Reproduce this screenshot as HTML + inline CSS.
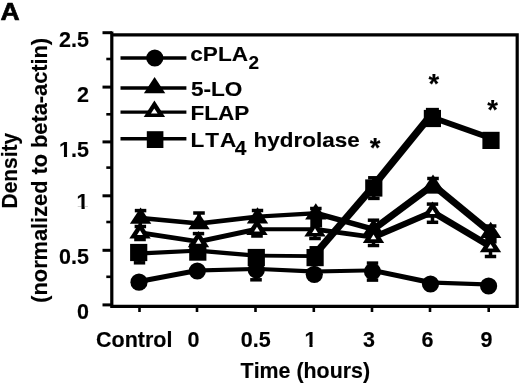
<!DOCTYPE html>
<html><head><meta charset="utf-8"><title>Figure A</title>
<style>html,body{margin:0;padding:0;background:#fff}svg{display:block;will-change:transform;transform:translateZ(0)}</style></head>
<body>
<svg width="520" height="385" viewBox="0 0 520 385">
<rect width="520" height="385" fill="#fff"/>
<g fill="none" stroke="#000" stroke-linejoin="miter">
<path d="M111.8,31.5 V306.4 H517.2 V34.8 H111.8" stroke-width="3.2"/>
<path d="M102.5,32.7 H112" stroke-width="3"/>
<path d="M102.5,87.1 H112" stroke-width="3"/>
<path d="M102.5,141.9 H112" stroke-width="3"/>
<path d="M102.5,195.8 H112" stroke-width="3"/>
<path d="M102.5,250.3 H112" stroke-width="3"/>
<path d="M102.5,304.9 H112" stroke-width="3"/>
<path d="M106.3,59 H112" stroke-width="2.6"/>
<path d="M106.3,114.3 H112" stroke-width="2.6"/>
<path d="M106.3,167.6 H112" stroke-width="2.6"/>
<path d="M106.3,222 H112" stroke-width="2.6"/>
<path d="M106.3,276.8 H112" stroke-width="2.6"/>
<path d="M139.5,306 V312" stroke-width="2.6"/>
<path d="M197,306 V312" stroke-width="2.6"/>
<path d="M255.5,306 V312" stroke-width="2.6"/>
<path d="M313.8,306 V312" stroke-width="2.6"/>
<path d="M372,306 V312" stroke-width="2.6"/>
<path d="M430,306 V312" stroke-width="2.6"/>
<path d="M488.7,306 V312" stroke-width="2.6"/>
<polygon points="135.9,279.6 194.2,268.4 200.4,268.4 200.4,272.4 142.1,283.6 135.9,283.6" fill="#000" stroke="none"/>
<polygon points="194.2,268.4 253.2,266.9 259.4,266.9 259.4,270.8 200.4,272.4 194.2,272.4" fill="#000" stroke="none"/>
<polygon points="253.2,266.9 259.4,266.9 317.4,269.6 317.4,273.6 311.2,273.6 253.2,270.8" fill="#000" stroke="none"/>
<polygon points="311.2,269.6 369.4,268.4 375.6,268.4 375.6,272.2 317.4,273.6 311.2,273.6" fill="#000" stroke="none"/>
<polygon points="369.4,268.4 375.6,268.4 433.6,280.6 433.6,284.6 427.4,284.6 369.4,272.2" fill="#000" stroke="none"/>
<polygon points="427.4,280.6 433.6,280.6 491.7,282.6 491.7,286.6 485.5,286.6 427.4,284.6" fill="#000" stroke="none"/>
<polygon points="137.5,216.1 143.7,216.1 202.1,221.6 202.1,225.4 195.9,225.4 137.5,219.9" fill="#000" stroke="none"/>
<polygon points="195.9,221.6 254.4,214.7 260.6,214.7 260.6,218.6 202.1,225.4 195.9,225.4" fill="#000" stroke="none"/>
<polygon points="254.4,214.7 312.7,211.2 318.9,211.2 318.9,215.2 260.6,218.6 254.4,218.6" fill="#000" stroke="none"/>
<polygon points="312.7,211.2 318.9,211.2 376.6,227.3 376.6,231.2 370.4,231.2 312.7,215.2" fill="#000" stroke="none"/>
<polygon points="370.4,227.3 429.9,183.1 436.1,183.1 436.1,186.9 376.6,231.2 370.4,231.2" fill="#000" stroke="none"/>
<polygon points="429.9,183.1 436.1,183.1 493.8,230.4 493.8,234.3 487.6,234.3 429.9,186.9" fill="#000" stroke="none"/>
<polygon points="136.9,230.8 143.1,230.8 201.6,239.7 201.6,243.6 195.4,243.6 136.9,234.8" fill="#000" stroke="none"/>
<polygon points="195.4,239.7 253.9,227.3 260.1,227.3 260.1,231.2 201.6,243.6 195.4,243.6" fill="#000" stroke="none"/>
<polygon points="253.9,227.3 311.9,227.2 318.1,227.2 318.1,231.2 260.1,231.2 253.9,231.2" fill="#000" stroke="none"/>
<polygon points="311.9,227.2 318.1,227.2 376.6,235.2 376.6,239.2 370.4,239.2 311.9,231.2" fill="#000" stroke="none"/>
<polygon points="370.4,235.2 429.4,210.1 435.6,210.1 435.6,213.9 376.6,239.2 370.4,239.2" fill="#000" stroke="none"/>
<polygon points="429.4,210.1 435.6,210.1 493.6,244.6 493.6,248.4 487.4,248.4 429.4,213.9" fill="#000" stroke="none"/>
<polygon points="135.6,251.6 194.7,248.7 200.9,248.7 200.9,252.6 141.8,255.4 135.6,255.4" fill="#000" stroke="none"/>
<polygon points="194.7,248.7 200.9,248.7 259.4,253.7 259.4,257.6 253.2,257.6 194.7,252.6" fill="#000" stroke="none"/>
<polygon points="253.2,253.7 259.4,253.7 317.2,254.2 317.2,258.1 311.0,258.1 253.2,257.6" fill="#000" stroke="none"/>
<polygon points="310.2,254.2 368.9,186.1 375.1,186.1 375.1,189.9 316.4,258.1 310.2,258.1" fill="#000" stroke="none"/>
<polygon points="368.9,185.6 427.3,113.8 433.5,113.8 433.5,117.8 375.1,189.4 368.9,189.4" fill="#000" stroke="none"/>
<polygon points="429.3,115.5 435.5,115.5 494.1,136.2 494.1,140.2 487.9,140.2 429.3,119.5" fill="#000" stroke="none"/>
<path d="M120.5,58 H186.4" stroke-width="3.4"/>
<path d="M120.5,88 H186.4" stroke-width="3.4"/>
<path d="M120.5,112.1 H186.4" stroke-width="3.4"/>
<path d="M120.5,138.8 H186.4" stroke-width="3.4"/>
</g>
<g fill="none" stroke="#000" stroke-width="3.5">
<path d="M134.8,210.6 H146.3"/>
<path d="M140.6,210.6 V218.0"/>
<path d="M193.2,213.0 H204.8"/>
<path d="M199.0,213.0 V223.5"/>
<path d="M251.8,210.5 H263.2"/>
<path d="M257.5,210.5 V216.6"/>
<path d="M310.1,208.5 H321.6"/>
<path d="M315.8,208.5 V213.2"/>
<path d="M367.8,220.2 H379.2"/>
<path d="M373.5,220.2 V229.3"/>
<path d="M427.2,178.5 H438.8"/>
<path d="M433.0,178.5 V185.0"/>
<path d="M484.9,226.0 H496.4"/>
<path d="M490.7,226.0 V232.4"/>
<path d="M134.2,239.5 H145.8"/>
<path d="M140.0,232.8 V239.5"/>
<path d="M251.2,236.0 H262.8"/>
<path d="M257.0,229.3 V236.0"/>
<path d="M309.2,238.5 H320.8"/>
<path d="M315.0,229.2 V238.5"/>
<path d="M367.8,245.5 H379.2"/>
<path d="M373.5,237.2 V245.5"/>
<path d="M426.8,222.3 H438.2"/>
<path d="M432.5,212.0 V222.3"/>
<path d="M484.8,256.5 H496.2"/>
<path d="M490.5,246.5 V256.5"/>
<path d="M192.8,233.6 H204.2"/>
<path d="M198.5,233.6 V240.0"/>
<path d="M134.6,226.5 H146.1"/>
<path d="M140.3,222.0 V230.0"/>
<path d="M426.8,204.1 H438.2"/>
<path d="M432.5,204.0 V212.0"/>
<path d="M133.8,262.8 H145.2"/>
<path d="M139.5,252.0 V262.8"/>
<path d="M250.2,279.8 H261.8"/>
<path d="M256.0,268.0 V279.8"/>
<path d="M309.5,247.8 H320.5"/>
<rect x="310.3" y="219" width="11.8" height="8.5" fill="#000" stroke="none"/>
<path d="M368.1,177.8 H379.6"/>
<path d="M368.1,198.4 H379.6"/>
<path d="M373.8,177.8 V198.4"/>
<path d="M425.9,109.6 H438.9"/>
<path d="M427.2,191.9 H438.8"/>
<path d="M433.0,185.0 V192.0"/>
<rect x="485.2" y="236" width="11.4" height="7.5" fill="#000" stroke="none"/>
<path d="M366.8,263.1 H378.2"/>
<path d="M366.8,280.1 H378.2"/>
<path d="M372.5,263.0 V280.0"/>
</g>
<g fill="#000" stroke="none">
<circle cx="139" cy="282.20000000000005" r="8.6"/>
<circle cx="197.3" cy="271.0" r="8.6"/>
<circle cx="256.3" cy="270.0" r="8.6"/>
<circle cx="314.3" cy="274.3" r="8.6"/>
<circle cx="372.5" cy="271.5" r="8.6"/>
<circle cx="430.5" cy="284.0" r="8.6"/>
<circle cx="488.6" cy="286.0" r="8.6"/>
<rect x="130.1" y="243.9" width="17.2" height="17.2"/>
<rect x="189.2" y="243.5" width="17.2" height="17.2"/>
<rect x="247.7" y="248.9" width="17.2" height="17.2"/>
<rect x="306.5" y="249.0" width="17.2" height="17.2"/>
<rect x="365.2" y="179.4" width="17.2" height="17.2"/>
<rect x="423.8" y="109.9" width="17.2" height="17.2"/>
<rect x="482.4" y="131.8" width="17.2" height="17.2"/>
<polygon points="129.9,223.7 151.3,223.7 140.6,207.4"/>
<polygon points="188.3,229.2 209.7,229.2 199.0,212.9"/>
<polygon points="246.8,223.6 268.2,223.6 257.5,207.3"/>
<polygon points="305.1,219.5 326.5,219.5 315.8,203.2"/>
<polygon points="362.8,235.0 384.2,235.0 373.5,218.7"/>
<polygon points="422.3,190.7 443.7,190.7 433.0,174.4"/>
<polygon points="480.0,238.1 501.4,238.1 490.7,221.8"/>
</g>
<g stroke="none">
<polygon points="129.3,238.5 150.7,238.5 140.0,222.2" fill="#000"/>
<polygon points="137.1,234.9 142.9,234.9 140.0,230.2" fill="#fff"/>
<polygon points="187.8,247.3 209.2,247.3 198.5,231.0" fill="#000"/>
<polygon points="195.6,243.7 201.4,243.7 198.5,239.0" fill="#fff"/>
<polygon points="246.3,235.0 267.7,235.0 257.0,218.7" fill="#000"/>
<polygon points="254.1,231.4 259.9,231.4 257.0,226.7" fill="#fff"/>
<polygon points="304.3,236.5 325.7,236.5 315.0,220.2" fill="#000"/>
<polygon points="312.1,232.9 317.9,232.9 315.0,228.2" fill="#fff"/>
<polygon points="362.8,242.9 384.2,242.9 373.5,226.6" fill="#000"/>
<polygon points="370.6,239.3 376.4,239.3 373.5,234.6" fill="#fff"/>
<polygon points="421.8,217.7 443.2,217.7 432.5,201.4" fill="#000"/>
<polygon points="429.6,214.1 435.4,214.1 432.5,209.4" fill="#fff"/>
<polygon points="479.8,252.2 501.2,252.2 490.5,235.9" fill="#000"/>
<polygon points="487.6,248.6 493.4,248.6 490.5,243.9" fill="#fff"/>
</g>
<circle cx="154.8" cy="58" r="8.6"/>
<polygon points="143.9,93.3 165.3,93.3 154.6,77.0"/>
<polygon points="143.7,116.9 165.1,116.9 154.4,100.6"/>
<polygon points="151.0,113.4 157.6,113.4 154.3,108.4" fill="#fff"/>
<rect x="146.8" y="131.2" width="16.6" height="16.8"/>
<g font-family="'Liberation Sans', Arial, Helvetica, sans-serif" font-weight="bold" fill="#000" stroke="#000" stroke-width="0.15" stroke-linejoin="round" style="font-kerning:none">
<text transform="translate(0.6,20.3) scale(1.08,1)" font-size="24.6" text-anchor="start" stroke-width="0.7">A</text>
<clipPath id="c1"><path clip-rule="evenodd" d="M-5,-30 H80 V8 H-5 Z M-1,-2.60 H5.02 V3 H-1 Z M8.25,-2.60 H12.23 V3 H8.25 Z"/></clipPath>
<text transform="translate(88.9,46.5) scale(0.978,1)" font-size="22" text-anchor="end">2.5</text>
<text transform="translate(88.9,101.5) scale(0.978,1)" font-size="22" text-anchor="end">2</text>
<text transform="translate(88.9,264.2) scale(0.978,1)" font-size="22" text-anchor="end">0.5</text>
<text transform="translate(88.9,318.7) scale(0.978,1)" font-size="22" text-anchor="end">0</text>
<text transform="translate(59.0,156.5) scale(0.978,1)" font-size="22" text-anchor="start" clip-path="url(#c1)">1.5</text>
<text transform="translate(76.6,209.3) scale(0.978,1)" font-size="22" text-anchor="start" clip-path="url(#c1)">1</text>
<text transform="translate(134.2,346.7) scale(0.978,1)" font-size="22" text-anchor="middle">Control</text>
<text transform="translate(193.4,346.7) scale(0.978,1)" font-size="22" text-anchor="middle">0</text>
<text transform="translate(255.8,346.7) scale(0.978,1)" font-size="22" text-anchor="middle">0.5</text>
<text transform="translate(369,346.7) scale(0.978,1)" font-size="22" text-anchor="middle">3</text>
<text transform="translate(427.6,346.7) scale(0.978,1)" font-size="22" text-anchor="middle">6</text>
<text transform="translate(486.4,346.7) scale(0.978,1)" font-size="22" text-anchor="middle">9</text>
<text transform="translate(304.5,346.7) scale(0.978,1)" font-size="22" text-anchor="start" clip-path="url(#c1)">1</text>
<text transform="translate(240.6,378) scale(0.972,1)" font-size="22" text-anchor="start">Time (hours)</text>
<text transform="translate(190.3,61.2) scale(1.075,1)" font-size="21" text-anchor="start">cPLA</text>
<text transform="translate(248.6,68.8) scale(1.0,1)" font-size="19" text-anchor="start">2</text>
<text transform="translate(191,96) scale(1.075,1)" font-size="21" text-anchor="start">5-LO</text>
<text transform="translate(190.5,120.3) scale(1.075,1)" font-size="21" text-anchor="start">FLAP</text>
<text transform="translate(190.5,146.7) scale(1.075,1)" font-size="21" text-anchor="start" letter-spacing="0.9">LTA</text>
<text transform="translate(234.8,155) scale(1.0,1)" font-size="21" text-anchor="start">4</text>
<text transform="translate(253.6,146.7) scale(1.07,1)" font-size="21" text-anchor="start">hydrolase</text>
<text transform="translate(375.2,156.60000000000002) scale(1,1)" font-size="27.5" text-anchor="middle">*</text>
<text transform="translate(433.9,92.6) scale(1,1)" font-size="27.5" text-anchor="middle">*</text>
<text transform="translate(492.5,119.39999999999999) scale(1,1)" font-size="27.5" text-anchor="middle">*</text>
<text transform="translate(17.2,170.7) rotate(-90) scale(0.95,1)" font-size="22" text-anchor="middle">Density</text>
<text transform="translate(47.4,170.3) rotate(-90) scale(0.99,1)" font-size="22" text-anchor="middle">(normalized to beta-actin)</text>
</g>
</svg>
</body></html>
